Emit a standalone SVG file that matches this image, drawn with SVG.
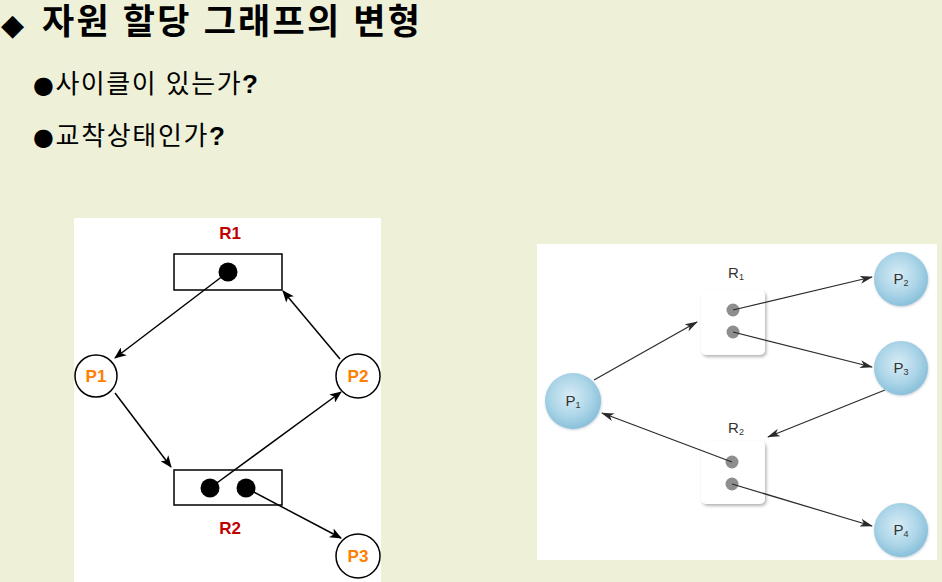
<svg xmlns="http://www.w3.org/2000/svg" width="942" height="582" viewBox="0 0 942 582">
<defs>
<style>
.title{font-family:"Liberation Sans","Noto Sans CJK KR",sans-serif;font-weight:bold;font-size:35px;fill:#000}
.bul{font-family:"Liberation Sans","Noto Sans CJK KR",sans-serif;font-size:26px;fill:#000}
.dotb{font-family:"DejaVu Sans",sans-serif;font-size:24px}
.q{font-weight:bold}
.rl{font-family:"Liberation Sans",Arial,sans-serif;font-weight:bold;font-size:17px;fill:#C00000;text-anchor:middle}
.pl{font-family:"Liberation Sans",Arial,sans-serif;font-weight:bold;font-size:17px;fill:#FF8000;text-anchor:middle}
.pc{fill:#fff;stroke:#000;stroke-width:1.5}
.rb{fill:none;stroke:#000;stroke-width:1.5}
.dot{fill:#000}
.e1{stroke:#000;stroke-width:1.5;fill:none;marker-end:url(#ah1)}
.e2{stroke:#2a2a2a;stroke-width:1.2;fill:none;marker-end:url(#ah2)}
.rp{fill:url(#bg)}
.rbox{fill:#fff;filter:url(#sh)}
.gdot{fill:#8e8e8e}
.lab{font-family:"Liberation Sans",Arial,sans-serif;font-size:15px;fill:#333;text-anchor:middle}
.sub{font-size:9px}
</style>
<marker id="ah1" markerUnits="userSpaceOnUse" markerWidth="12" markerHeight="10" refX="11" refY="5" orient="auto">
<path d="M0,0 L12,5 L0,10 L3,5 z" fill="#000"/>
</marker>
<marker id="ah2" markerUnits="userSpaceOnUse" markerWidth="13" markerHeight="8" refX="12" refY="4" orient="auto">
<path d="M0,0 L13,4 L0,8 L3.5,4 z" fill="#2a2a2a"/>
</marker>
<radialGradient id="bg" cx="0.45" cy="0.42" r="0.6">
<stop offset="0" stop-color="#d8ecf5"/>
<stop offset="0.6" stop-color="#acd5e8"/>
<stop offset="1" stop-color="#86bfd9"/>
</radialGradient>
<filter id="sh" x="-20%" y="-20%" width="150%" height="150%">
<feDropShadow dx="1.5" dy="2" stdDeviation="1.5" flood-color="#777" flood-opacity="0.55"/>
</filter>
<filter id="csh" x="-20%" y="-20%" width="150%" height="150%">
<feDropShadow dx="0.5" dy="1" stdDeviation="1.2" flood-color="#9ab" flood-opacity="0.6"/>
</filter>
</defs>

<rect width="942" height="582" fill="#EEF0D8"/>

<g id="header">
<text x="1" y="35" font-family="DejaVu Sans,sans-serif" font-size="30" fill="#000">◆</text>
<text class="title" x="42" y="34" textLength="378" lengthAdjust="spacing">자원 할당 그래프의 변형</text>
<text class="bul" x="33" y="93" textLength="225" lengthAdjust="spacing"><tspan class="dotb">●</tspan>사이클이 있는가<tspan class="q">?</tspan></text>
<text class="bul" x="33" y="145" textLength="192" lengthAdjust="spacing"><tspan class="dotb">●</tspan>교착상태인가<tspan class="q">?</tspan></text>
</g>

<rect x="74" y="218" width="307" height="364" fill="#fff"/>
<rect x="537" y="244" width="400" height="316" fill="#fff"/>

<g id="left-edges">
<line class="e1" x1="228" y1="272" x2="115" y2="358"/>
<line class="e1" x1="340" y1="359" x2="283" y2="291"/>
<line class="e1" x1="115" y1="393" x2="171" y2="467"/>
<line class="e1" x1="210" y1="488" x2="341" y2="392"/>
<line class="e1" x1="246" y1="488" x2="341" y2="538"/>
</g>

<g id="L-R1">
<text class="rl" x="230" y="239">R1</text>
<rect class="rb" x="174" y="254" width="108" height="36"/>
<circle class="dot" cx="228" cy="272" r="9.5"/>
</g>
<g id="L-R2">
<rect class="rb" x="174" y="470" width="108" height="35"/>
<circle class="dot" cx="210" cy="488" r="9.5"/>
<circle class="dot" cx="246" cy="488" r="9.5"/>
<text class="rl" x="230" y="534">R2</text>
</g>
<g id="L-P1">
<circle class="pc" cx="96" cy="376" r="21"/>
<text class="pl" x="96" y="382">P1</text>
</g>
<g id="L-P2">
<circle class="pc" cx="358" cy="376" r="22"/>
<text class="pl" x="358" y="382">P2</text>
</g>
<g id="L-P3">
<circle class="pc" cx="358" cy="556" r="22"/>
<text class="pl" x="358" y="562">P3</text>
</g>

<g id="R-R1">
<text class="lab" x="736" y="278">R<tspan class="sub" dy="2">1</tspan></text>
<rect class="rbox" x="701" y="290" width="64" height="65" rx="5"/>
<circle class="gdot" cx="733" cy="310" r="6.5"/>
<circle class="gdot" cx="733" cy="332" r="6.5"/>
</g>
<g id="R-R2">
<text class="lab" x="736" y="433">R<tspan class="sub" dy="2">2</tspan></text>
<rect class="rbox" x="701" y="441" width="64" height="63" rx="5"/>
<circle class="gdot" cx="732" cy="462" r="6.5"/>
<circle class="gdot" cx="732" cy="484" r="6.5"/>
</g>

<g id="right-edges">
<line class="e2" x1="594" y1="380" x2="697" y2="322"/>
<line class="e2" x1="733" y1="310" x2="872" y2="277"/>
<line class="e2" x1="733" y1="332" x2="872" y2="367"/>
<line class="e2" x1="885" y1="390" x2="768" y2="437"/>
<line class="e2" x1="732" y1="462" x2="602" y2="413"/>
<line class="e2" x1="732" y1="484" x2="872" y2="526"/>
</g>

<g id="R-P1">
<circle class="rp" cx="573" cy="401" r="28" filter="url(#csh)"/>
<text class="lab" x="573" y="406">P<tspan class="sub" dy="2">1</tspan></text>
</g>
<g id="R-P2">
<circle class="rp" cx="901" cy="279" r="27" filter="url(#csh)"/>
<text class="lab" x="901" y="284">P<tspan class="sub" dy="2">2</tspan></text>
</g>
<g id="R-P3">
<circle class="rp" cx="901" cy="368" r="27" filter="url(#csh)"/>
<text class="lab" x="901" y="373">P<tspan class="sub" dy="2">3</tspan></text>
</g>
<g id="R-P4">
<circle class="rp" cx="901" cy="530" r="27" filter="url(#csh)"/>
<text class="lab" x="901" y="535">P<tspan class="sub" dy="2">4</tspan></text>
</g>
</svg>
